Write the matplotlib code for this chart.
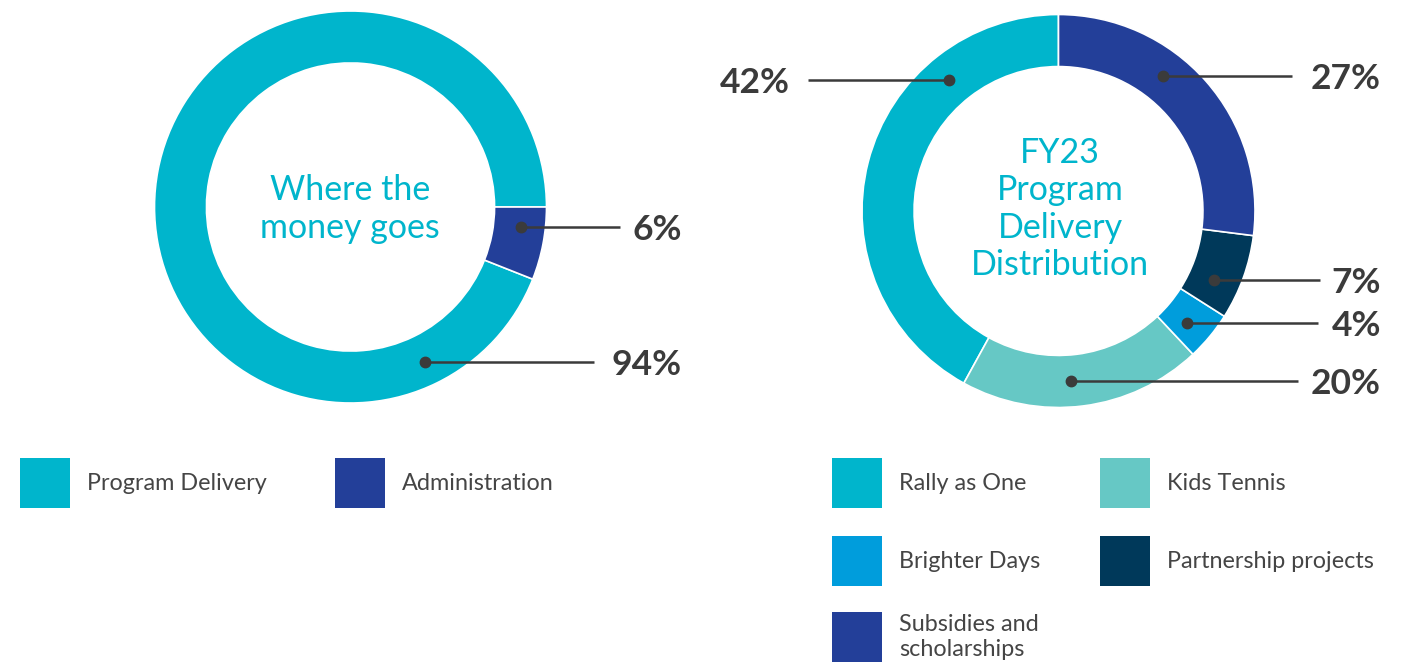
import matplotlib.pyplot as plt
from matplotlib.patches import Rectangle
import numpy as np

plt.rcParams['font.family'] = ['Lato', 'DejaVu Sans']

W, H = 1423, 663

# left chart - where the money goes
money_labels = ['Program Delivery', 'Administration']
money_values = [94, 6]
money_colors = ['#00B5CC', '#233F99']
money_title = ['Where the', 'money goes']

# right chart - FY23 program delivery
program_labels = ['Rally as One', 'Kids Tennis', 'Brighter Days',
                  'Partnership projects', 'Subsidies and\nscholarships']
program_values = [42, 20, 4, 7, 27]
program_colors = ['#00B5CC', '#66C8C5', '#009DDC', '#00395A', '#233F99']
program_title = ['FY23', 'Program', 'Delivery', 'Distribution']

# leader lines: angle of the dot (deg), x where the line stops
money_ann_angle = [-64.5, -6.7]
money_line_end = [594, 620]
program_ann_angle = [130, -85.9, -41.1, -24, 52.2]
program_line_end = [808, 1298, 1318, 1320, 1292]

DARK = '#3b3b3b'
TXT = '#454545'
CYAN = '#00B5CC'

fig = plt.figure(figsize=(W / 100, H / 100), dpi=100)
ax = fig.add_axes([0, 0, 1, 1])


def donut(values, colors, cx, cy, r, start):
    ax.pie(values, colors=colors, radius=r, center=(cx, H - cy),
           startangle=start, counterclock=True, frame=True,
           wedgeprops=dict(width=r * 0.265, edgecolor='white', linewidth=1.2))


def leaders(values, angles, ends, cx, cy, rm, label_x_right, label_x_left=None):
    for v, a, xe in zip(values, angles, ends):
        x = cx + rm * np.cos(np.radians(a))
        y = H - cy + rm * np.sin(np.radians(a))
        ax.plot([x, xe], [y, y], lw=1.8, color=DARK, solid_capstyle='butt')
        ax.plot(x, y, 'o', ms=7.5, color=DARK)
        lx = label_x_right if xe > x else label_x_left
        ax.text(lx, y, f'{v}%', ha='right', va='center_baseline',
                fontsize=25.5, fontweight='bold', color=DARK)


def title(lines, cx, ys):
    for s, y in zip(lines, ys):
        ax.text(cx, H - y, s, ha='center', va='center_baseline', fontsize=24.5, color=CYAN)


def legend(labels, colors, xs, ys):
    for i, (lab, c) in enumerate(zip(labels, colors)):
        x = xs[i % 2]
        y = ys[i // 2]
        ax.add_patch(Rectangle((x, H - y - 50), 50, 50, color=c, lw=0))
        ax.text(x + 67, H - y - 25, lab, ha='left', va='center', fontsize=16.8,
                color=TXT, linespacing=1.25)


donut(money_values, money_colors, 350.5, 207, 196, 0)
donut(program_values, program_colors, 1058.5, 211, 196.5, 90)

leaders(money_values, money_ann_angle, money_line_end, 350.5, 207, 172, 682)
leaders(program_values, program_ann_angle, program_line_end, 1058.5, 211, 170.5,
        1381, label_x_left=790)

title(money_title, 350, [187, 225])
title(program_title, 1060, [150, 187, 225, 262])

legend(money_labels, money_colors, [20, 335], [458])
legend(program_labels, program_colors, [832, 1100], [458, 536, 612])

ax.set_xlim(0, W)
ax.set_ylim(0, H)
ax.set_aspect('equal')
ax.axis('off')

fig.savefig('out.png', dpi=100)
